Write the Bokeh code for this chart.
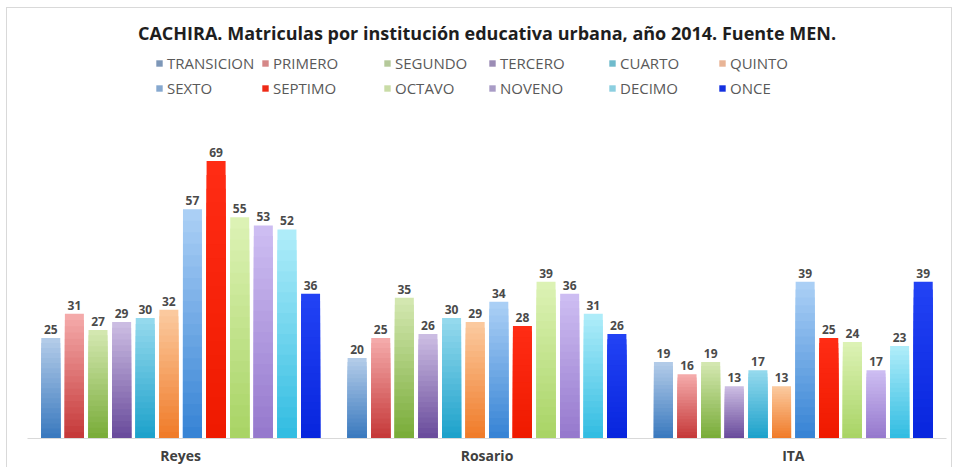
from bokeh.plotting import figure
from bokeh.models import FactorRange, Range1d, ColumnDataSource, Legend, LegendItem
from bokeh.transform import dodge
from bokeh.core.properties import value
from bokeh.embed import file_html
from bokeh.resources import INLINE

# ---------------- data ----------------
categories = ["Reyes", "Rosario", "ITA"]
series = ["TRANSICION", "PRIMERO", "SEGUNDO", "TERCERO", "CUARTO", "QUINTO",
          "SEXTO", "SEPTIMO", "OCTAVO", "NOVENO", "DECIMO", "ONCE"]

TRANSICION = [25, 20, 19]
PRIMERO = [31, 25, 16]
SEGUNDO = [27, 35, 19]
TERCERO = [29, 26, 13]
CUARTO = [30, 30, 17]
QUINTO = [32, 29, 13]
SEXTO = [57, 34, 39]
SEPTIMO = [69, 28, 25]
OCTAVO = [55, 39, 24]
NOVENO = [53, 36, 17]
DECIMO = [52, 31, 23]
ONCE = [36, 26, 39]

values = [TRANSICION, PRIMERO, SEGUNDO, TERCERO, CUARTO, QUINTO,
          SEXTO, SEPTIMO, OCTAVO, NOVENO, DECIMO, ONCE]

title_text = "CACHIRA. Matriculas por institución educativa urbana, año 2014. Fuente MEN."

# ---------------- styles ----------------
colors_top = ["#b2cbe8", "#f4aaaa", "#d3e7b0", "#cbbce2", "#94d9ed", "#fbc99e",
              "#aacff5", "#ff2c14", "#dcf2b4", "#cdbdf2", "#aeecf9", "#2242f4"]
colors_bottom = ["#3b7abf", "#c63a3a", "#7aad3a", "#6a4c9c", "#1ea2cb", "#f07c2a",
                 "#3884d5", "#ef1a00", "#a9d466", "#9679cd", "#33bde2", "#0826de"]
legend_colors = ["#7d97b8", "#d58787", "#b5c99a", "#9b8cb5", "#6fbbcc", "#e8b496",
                 "#86a8cf", "#ee2a16", "#c9dca6", "#a99cc6", "#8ccfe0", "#1430e0"]
legend_cols_x = [128, 234, 356, 461, 581, 691]

N_LAYERS = 20
SLOT = 0.0771
BAR_W = 0.062
FONT = "Open Sans"


def mix(c1, c2, t):
    a = [int(c1[i:i + 2], 16) for i in (1, 3, 5)]
    b = [int(c2[i:i + 2], 16) for i in (1, 3, 5)]
    return "#%02x%02x%02x" % tuple(round(a[j] + (b[j] - a[j]) * t) for j in range(3))


p = figure(x_range=FactorRange(factors=categories, range_padding=0),
           y_range=Range1d(0, 97),
           width=944, height=459,
           output_backend="svg", toolbar_location=None,
           min_border_left=20, min_border_right=5,
           min_border_bottom=29, min_border_top=40)

p.title.text = title_text
p.title.align = "center"
p.title.text_font = FONT
p.title.text_font_size = "18px"
p.title.text_font_style = "bold"
p.title.text_color = "#1e1e1e"
p.title.standoff = 7

legend_renderers = []
for i, (name, vals) in enumerate(zip(series, values)):
    off = (i - 5.5) * SLOT
    data = {"cats": categories, "v": vals, "lbl": [str(v) for v in vals]}
    for k in range(N_LAYERS):
        data["t%d" % k] = [v * (1 - k / N_LAYERS) for v in vals]
    src = ColumnDataSource(data)
    for k in range(N_LAYERS):
        col = mix(colors_top[i], colors_bottom[i], k / (N_LAYERS - 1))
        p.vbar(x=dodge("cats", off, range=p.x_range), top="t%d" % k, width=BAR_W,
               source=src, fill_color=col, line_color=None)
    p.text(x=dodge("cats", off, range=p.x_range), y="v", text="lbl", source=src,
           text_align="center", text_baseline="bottom", y_offset=-4,
           text_font=value(FONT), text_font_size=value("12px"),
           text_font_style="bold", text_color="#4a4a4a")
    lr = p.rect(x=dodge("cats", off, range=p.x_range), y="v", width=0, height=0,
                source=src, fill_color=legend_colors[i], line_color=None)
    legend_renderers.append(lr)

for c in range(6):
    items = [LegendItem(label=series[c], renderers=[legend_renderers[c]]),
             LegendItem(label=series[c + 6], renderers=[legend_renderers[c + 6]])]
    lg = Legend(items=items, orientation="vertical",
                location=(legend_cols_x[c], 340),
                glyph_width=8, glyph_height=8, label_height=20, label_standoff=4,
                spacing=5, padding=0, margin=0,
                label_text_font=FONT, label_text_font_size="15px",
                label_text_color="#595959",
                border_line_color=None, background_fill_alpha=0)
    p.add_layout(lg, "center")

p.xgrid.grid_line_color = None
p.ygrid.grid_line_color = None
p.yaxis.visible = False
p.xaxis.axis_line_color = "#d9d9d9"
p.xaxis.major_tick_line_color = None
p.xaxis.major_tick_out = 0
p.xaxis.major_tick_in = 0
p.xaxis.minor_tick_line_color = None
p.xaxis.major_label_text_font = FONT
p.xaxis.major_label_text_font_size = "14px"
p.xaxis.major_label_text_font_style = "bold"
p.xaxis.major_label_text_color = "#404040"
p.xaxis.major_label_standoff = 7
p.outline_line_color = None
p.styles = {"margin-left": "7px", "margin-top": "8px",
            "outline": "1px solid #d9d9d9"}

open("out.html", "w").write(file_html(p, INLINE))
